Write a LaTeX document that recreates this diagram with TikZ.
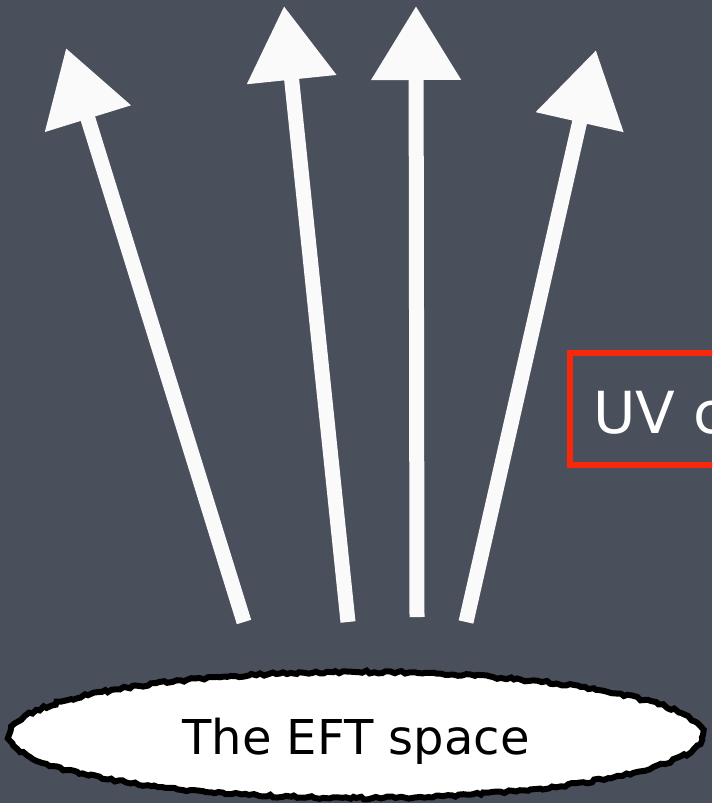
\documentclass[tikz,border=0pt]{standalone}
\usepackage{fontspec}
\setmainfont{DejaVu Sans}
\usetikzlibrary{arrows.meta,shapes.geometric,decorations.pathmorphing}
\definecolor{board}{RGB}{74,79,92}
\definecolor{chalk}{RGB}{250,250,250}
\definecolor{hilite}{RGB}{250,40,10}
\begin{document}
\begin{tikzpicture}[x=1pt,y=-1pt,
  chalkarrow/.style={draw=chalk,line width=15pt,
    -{Triangle[length=74pt,width=86pt]}},
  space/.style={ellipse,draw=black,fill=white,line width=6pt,
    minimum width=694pt,minimum height=126pt,inner sep=0pt,
    font=\fontsize{48}{52}\selectfont,text height=48pt,text depth=10pt,
    decorate,decoration={random steps,segment length=4pt,amplitude=1.4pt}},
  frame/.style={draw=hilite,line width=6pt},
  label/.style={text=white,font=\fontsize{58}{60}\selectfont,anchor=base west,inner sep=0pt}]
  % blackboard
  \fill[board] (0,0) rectangle (712,803);
  \useasboundingbox (0,0) rectangle (712,803);
  \clip (0,0) rectangle (712,803);
  % arrow end points
  \coordinate (t1) at (244,622); \coordinate (h1) at (66,48);
  \coordinate (t2) at (348,622); \coordinate (h2) at (284,6);
  \coordinate (t3) at (417,617); \coordinate (h3) at (416,6);
  \coordinate (t4) at (466,622); \coordinate (h4) at (596,50);
  \foreach \i in {1,2,3,4} \draw[chalkarrow] (t\i) -- (h\i);
  % the ellipse at the bottom
  \node[space] (eft) at (356,735) {The EFT space};
  % red frame running off the right edge
  \draw[frame] (760,465) -- (570,465) -- (570,353) -- (760,353);
  \node[label] (uv) at (593,433) {UV c};
\end{tikzpicture}
\end{document}
